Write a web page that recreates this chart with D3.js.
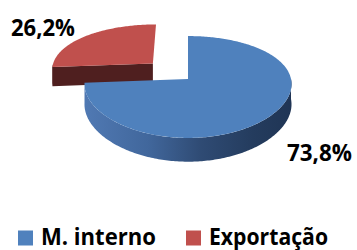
<!DOCTYPE html>
<html><head><meta charset="utf-8">
<script src="https://cdn.jsdelivr.net/npm/d3@7/dist/d3.min.js"></script>
<style>html,body{margin:0;padding:0;background:#fff;}svg{display:block;}</style>
</head><body>
<svg id="c" width="357" height="250"></svg>
<script>
// ---- data ----
const categories = ["M. interno", "Exportação"];
const values = [73.8, 26.2];
const valueLabels = ["73,8%", "26,2%"];

// ---- layout / style ----
const W = 357, H = 250;
const cx = 188, cy = 79, A = 103, B = 49.7, kx = 0.1, ky = 0.157, D = 20;
const explode = [0, 0.48];
const topColors = ["#4f81bd", "#c0504d"];
const sideColors = ["url(#blueSide)", "#4f1f1f"];
const labelPos = [[287, 161, 65], [11, 36, 64]];
const legendX = [18, 186], legendTextW = [115, 119];
const font = "'Open Sans', 'DejaVu Sans', sans-serif";

const svg = d3.select("#c");
const defs = svg.append("defs");
const g = defs.append("linearGradient").attr("id", "blueSide")
  .attr("gradientUnits", "userSpaceOnUse").attr("x1", 85).attr("x2", 295).attr("y1", 0).attr("y2", 0);
[[0, "#5079b3"], [0.3, "#41679c"], [0.55, "#2f4b74"], [0.8, "#243c5e"], [1, "#1f3454"]]
  .forEach(([o, c]) => g.append("stop").attr("offset", o).attr("stop-color", c));

const pie = d3.pie().sort(null).startAngle(0).endAngle(2 * Math.PI);
const arcs = pie(values);

function proj(u, v, z) {
  return [cx + A * u / (1 + kx * v), cy - B * v / (1 + ky * v) + z * D / (1 + ky * v)];
}
const line = d3.line();
function ringPts(u0, v0, a0, a1, z, n) {
  const pts = [];
  for (let i = 0; i <= n; i++) {
    const t = a0 + (a1 - a0) * i / n;
    pts.push(proj(u0 + Math.sin(t), v0 + Math.cos(t), z));
  }
  return pts;
}

// draw back slice (red) first, then front (blue)
const order = [1, 0];
order.forEach(i => {
  const a = arcs[i];
  const mid = (a.startAngle + a.endAngle) / 2;
  const u0 = explode[i] * Math.sin(mid), v0 = explode[i] * Math.cos(mid);
  const grp = svg.append("g");
  const lo = Math.max(a.startAngle, Math.PI / 2), hi = Math.min(a.endAngle, 3 * Math.PI / 2);
  if (hi > lo) {
    const n = Math.max(4, Math.ceil((hi - lo) * 60));
    const pts = ringPts(u0, v0, lo, hi, 0, n).concat(ringPts(u0, v0, lo, hi, 1, n).reverse());
    grp.append("path").attr("d", line(pts) + "Z").attr("fill", sideColors[i]);
  }
  [[a.startAngle, Math.sin(a.startAngle)], [a.endAngle, -Math.sin(a.endAngle)]].forEach(([t, nv]) => {
    if (nv < -0.01) {
      const c0 = proj(u0, v0, 0), c1 = proj(u0, v0, 1);
      const r0 = proj(u0 + Math.sin(t), v0 + Math.cos(t), 0), r1 = proj(u0 + Math.sin(t), v0 + Math.cos(t), 1);
      grp.append("path").attr("d", line([c0, r0, r1, c1]) + "Z").attr("fill", i === 0 ? "#2f4b74" : sideColors[i]);
    }
  });
  const n = Math.ceil((a.endAngle - a.startAngle) * 60);
  const top = [proj(u0, v0, 0)].concat(ringPts(u0, v0, a.startAngle, a.endAngle, 0, n));
  grp.append("path").attr("d", line(top) + "Z").attr("fill", topColors[i]);
});

// value labels
svg.selectAll("text.val").data(valueLabels).join("text").attr("class", "val")
  .attr("x", (d, i) => labelPos[i][0]).attr("y", (d, i) => labelPos[i][1])
  .attr("textLength", (d, i) => labelPos[i][2]).attr("lengthAdjust", "spacingAndGlyphs")
  .attr("font-family", font).attr("font-weight", "bold").attr("font-size", 23.5)
  .attr("fill", "#000").text(d => d);

// legend
const lg = svg.selectAll("g.lg").data(categories).join("g").attr("class", "lg");
lg.append("rect").attr("x", (d, i) => legendX[i]).attr("y", 230.5).attr("width", 15).attr("height", 15)
  .attr("fill", (d, i) => topColors[i]);
lg.append("text").attr("x", (d, i) => legendX[i] + 23).attr("y", 244.5)
  .attr("textLength", (d, i) => legendTextW[i]).attr("lengthAdjust", "spacingAndGlyphs")
  .attr("font-family", font).attr("font-weight", "bold").attr("font-size", 22.5)
  .attr("fill", "#000").text(d => d);
</script>
</body></html>
